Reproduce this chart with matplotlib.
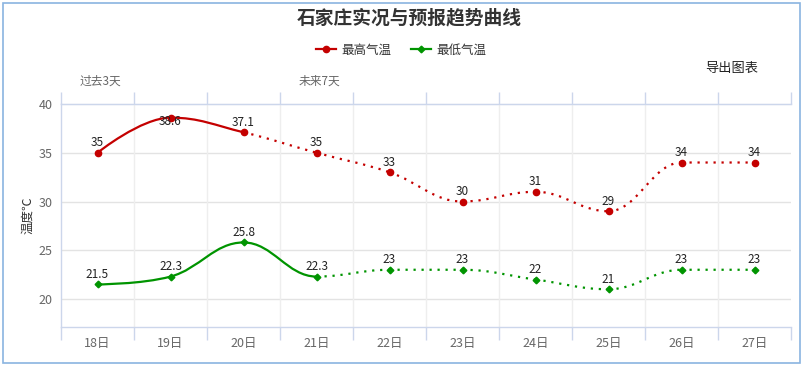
import numpy as np
import matplotlib
matplotlib.use("Agg")
import matplotlib.pyplot as plt
from matplotlib.lines import Line2D
from matplotlib.patches import Rectangle
from matplotlib.path import Path
from matplotlib.patches import PathPatch

plt.rcParams['font.family'] = ['Noto Sans CJK SC', 'DejaVu Sans']

categories = ['18日', '19日', '20日', '21日', '22日', '23日', '24日', '25日', '26日', '27日']
high = [35, 38.6, 37.1, 35, 33, 30, 31, 29, 34, 34]
low = [21.5, 22.3, 25.8, 22.3, 23, 23, 22, 21, 23, 23]
high_labels = ['35', '38.6', '37.1', '35', '33', '30', '31', '29', '34', '34']
low_labels = ['21.5', '22.3', '25.8', '22.3', '23', '23', '22', '21', '23', '23']
high_solid_end = 2   # index where observed part ends
low_solid_end = 3
yticks = [20, 25, 30, 35, 40]

W, H = 805, 367
fig = plt.figure(figsize=(W / 100, H / 100), dpi=100)
fig.patch.set_facecolor('white')

# outer border
fig.add_artist(Rectangle((3 / W, 1 - 363 / H), 797 / W, 360 / H, transform=fig.transFigure,
                         fill=False, edgecolor='#8ab4e0', linewidth=1.2))

ax = fig.add_axes([61 / W, 1 - 327 / H, 730 / W, 223 / H])
YMIN, YMAX = 17.13, 40
ax.set_xlim(-0.5, 9.5)
ax.set_ylim(YMIN, YMAX)


def spline_segments(ys):
    """Highcharts-like spline: returns list of bezier segments (p0, c1, c2, p1)."""
    xs = np.arange(len(ys), dtype=float)
    ys = np.array(ys, dtype=float)
    n = len(ys)
    sm = 1.5
    den = sm + 1
    lc = [None] * n
    rc = [None] * n
    for i in range(n):
        if 0 < i < n - 1:
            x, y = xs[i], ys[i]
            lx, ly = xs[i - 1], ys[i - 1]
            nx, ny = xs[i + 1], ys[i + 1]
            lcx = (sm * x + lx) / den
            lcy = (sm * y + ly) / den
            rcx = (sm * x + nx) / den
            rcy = (sm * y + ny) / den
            if rcx != lcx:
                corr = ((rcy - lcy) * (rcx - x)) / (rcx - lcx) + y - rcy
                lcy += corr
                rcy += corr
            if lcy > ly and lcy > y:
                lcy = max(ly, y)
                rcy = 2 * y - lcy
            elif lcy < ly and lcy < y:
                lcy = min(ly, y)
                rcy = 2 * y - lcy
            if rcy > ny and rcy > y:
                rcy = max(ny, y)
                lcy = 2 * y - rcy
            elif rcy < ny and rcy < y:
                rcy = min(ny, y)
                lcy = 2 * y - rcy
            lc[i] = (lcx, lcy)
            rc[i] = (rcx, rcy)
        else:
            lc[i] = (xs[i], ys[i])
            rc[i] = (xs[i], ys[i])
    segs = []
    for i in range(1, n):
        segs.append(((xs[i - 1], ys[i - 1]), rc[i - 1], lc[i], (xs[i], ys[i])))
    return segs


def draw_series(ys, split, color, marker, ms):
    segs = spline_segments(ys)
    for k, seg in enumerate(segs):
        verts = list(seg)
        codes = [Path.MOVETO, Path.CURVE4, Path.CURVE4, Path.CURVE4]
        if k < split:
            patch = PathPatch(Path(verts, codes), fill=False, edgecolor=color, lw=1.6, zorder=3,
                              capstyle='round')
        else:
            patch = PathPatch(Path(verts, codes), fill=False, edgecolor=color, lw=1.6, zorder=3,
                              linestyle=(0, (1, 2.6)), capstyle='butt')
        ax.add_patch(patch)
    ax.plot(range(len(ys)), ys, linestyle='none', marker=marker, ms=ms, color=color, zorder=4)


red = '#c40000'
green = '#009400'
draw_series(high, high_solid_end, red, 'o', 4.5)
draw_series(low, low_solid_end, green, 'D', 3.4)

px_per_unit = 223 / (YMAX - YMIN)


def put_labels(vals, texts):
    for i, (v, t) in enumerate(zip(vals, texts)):
        top_room = (YMAX - v) * px_per_unit
        # label would overflow the plot top -> justify it down over the point
        dy = 10 if top_room > 16 else -4
        ax.annotate(t, (i, v), xytext=(0, dy * 0.72), textcoords='offset points', ha='center',
                    va='center', fontsize=8.5, color='#222222', zorder=5)


put_labels(high, high_labels)
put_labels(low, low_labels)

# grid & axes
ax.set_yticks(yticks)
ax.set_yticklabels([str(v) for v in yticks], fontsize=9, color='#666666')
ax.tick_params(axis='y', length=0, pad=6)
for v in yticks[:-1]:
    ax.axhline(v, color='#e3e3e3', lw=1, zorder=1)
for b in np.arange(0.5, 9.5, 1):
    ax.axvline(b, color='#eeeeee', lw=1, zorder=1)

ax.set_xticks(range(len(categories)))
ax.set_xticklabels(categories, fontsize=9, color='#666666')
ax.tick_params(axis='x', length=0, pad=7)
ax.set_xticks(np.arange(-0.5, 10, 1), minor=True)
ax.tick_params(axis='x', which='minor', length=9, color='#ccd6eb', width=1, direction='out')

ax.spines['right'].set_visible(False)
for s in ['top', 'bottom', 'left']:
    ax.spines[s].set_color('#ccd6eb')
    ax.spines[s].set_linewidth(1)

# top tick marks
ax2 = ax.secondary_xaxis('top')
ax2.set_xticks(np.arange(-0.5, 10, 1))
ax2.set_xticklabels([])
ax2.tick_params(length=9, color='#ccd6eb', width=1, direction='out')
ax2.spines['top'].set_color('#ccd6eb')

ax.set_ylabel('温度℃', fontsize=9, color='#333333', labelpad=3)

# texts
fig.text(409 / W, 1 - 18 / H, '石家庄实况与预报趋势曲线', ha='center', va='center',
         fontsize=13.5, fontweight='bold', color='#333333')
fig.text(80 / W, 1 - 81 / H, '过去3天', ha='left', va='center', fontsize=8.5, color='#666666')
fig.text(299 / W, 1 - 81 / H, '未来7天', ha='left', va='center', fontsize=8.5, color='#666666')
fig.text(705 / W, 1 - 68 / H, '导出图表', ha='left', va='center', fontsize=9.5, color='#222222')

handles = [Line2D([], [], color=red, lw=1.6, marker='o', ms=4.5),
           Line2D([], [], color=green, lw=1.6, marker='D', ms=3.4)]
fig.legend(handles, ['最高气温', '最低气温'], loc='center', bbox_to_anchor=(401 / W, 1 - 50 / H),
           ncol=2, frameon=False, fontsize=9, handlelength=1.6, handletextpad=0.4,
           columnspacing=1.6, labelcolor='#333333')

fig.savefig('out.png', dpi=100)
